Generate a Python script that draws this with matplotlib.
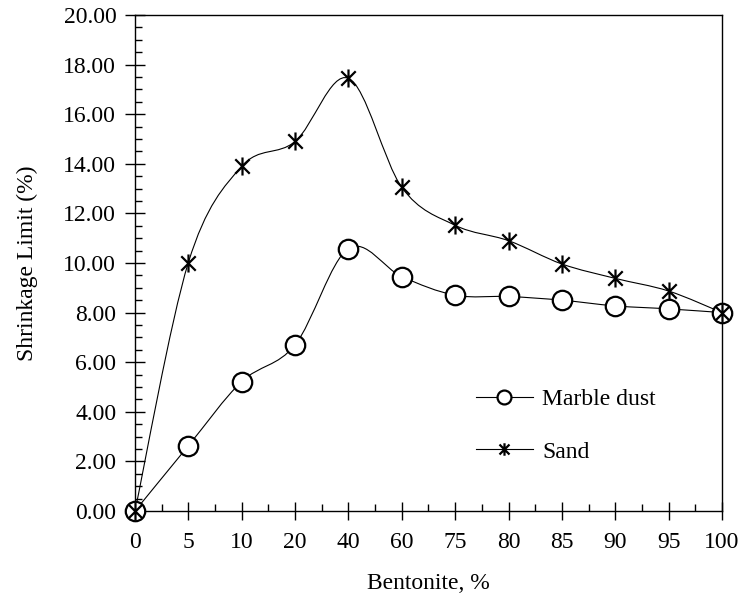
"""
Shrinkage limit vs bentonite content (marble dust / sand)
"""

import numpy as np
import matplotlib
matplotlib.use('Agg')
import matplotlib.pyplot as plt
from matplotlib.path import Path
from matplotlib.patches import PathPatch
from matplotlib.ticker import MultipleLocator, FormatStrFormatter

bentonite = ['0', '5', '10', '20', '40', '60', '75', '80', '85', '90', '95', '100']
marble_dust = [0.00, 2.63, 5.22, 6.70, 10.58, 9.45, 8.70, 8.65, 8.50, 8.27, 8.15, 8.00]
sand = [0.00, 10.02, 13.90, 14.90, 17.45, 13.05, 11.52, 10.90, 9.96, 9.38, 8.87, 8.00]

plt.rcParams['font.family'] = ['Liberation Serif', 'DejaVu Serif']
FS = 17

# Excel-like "star" marker : X plus vertical bar
star = Path([(-1, -1), (1, 1), (-1, 1), (1, -1), (0, -1.25), (0, 1.25)],
            [Path.MOVETO, Path.LINETO, Path.MOVETO, Path.LINETO, Path.MOVETO, Path.LINETO])


def smooth_path(xs, ys):
    # smoothed line like the spreadsheet one (cubic bezier, catmull-rom controls)
    p = np.column_stack([xs, ys]).astype(float)
    n = len(p)
    verts = [p[0]]
    codes = [Path.MOVETO]
    for i in range(n - 1):
        p0 = p[i - 1] if i > 0 else p[i]
        p3 = p[i + 2] if i + 2 < n else p[i + 1]
        c1 = p[i] + (p[i + 1] - p0) / 6
        c2 = p[i + 1] - (p3 - p[i]) / 6
        verts += [c1, c2, p[i + 1]]
        codes += [Path.CURVE4] * 3
    return Path(verts, codes)


fig = plt.figure(figsize=(7.43, 6.01), dpi=100, facecolor='white')
ax = fig.add_axes([0.1817, 0.1498, 0.79, 0.8252])

x = np.arange(len(bentonite))

for vals in (marble_dust, sand):
    ax.add_patch(PathPatch(smooth_path(x, vals), facecolor='none',
                           edgecolor='black', linewidth=0.8, zorder=2))

ax.plot(x, marble_dust, linestyle='none', marker='o', markersize=14,
        markerfacecolor='white', markeredgecolor='black', markeredgewidth=1.6,
        zorder=3, clip_on=False)
ax.plot(x, sand, linestyle='none', marker=star, markersize=13,
        markeredgecolor='black', markeredgewidth=1.6, zorder=4, clip_on=False)

# handles for the legend
h1, = ax.plot([], [], color='black', linewidth=0.8, marker='o', markersize=10,
              markerfacecolor='white', markeredgecolor='black', markeredgewidth=1.6,
              label='Marble dust')
h2, = ax.plot([], [], color='black', linewidth=0.8, marker=star, markersize=9,
              markeredgecolor='black', markeredgewidth=1.6, label='Sand')
ax.legend(handles=[h1, h2], loc='center left', bbox_to_anchor=(0.545, 0.172),
          frameon=False, fontsize=FS, handlelength=2.4, handletextpad=0.4,
          labelspacing=1.3)

ax.set_xlim(0, len(bentonite) - 1)
ax.set_ylim(0, 20)
ax.set_xticks(x)
ax.set_xticklabels(bentonite)
ax.xaxis.set_minor_locator(MultipleLocator(0.5))
ax.yaxis.set_major_locator(MultipleLocator(2))
ax.yaxis.set_minor_locator(MultipleLocator(0.5))
ax.yaxis.set_major_formatter(FormatStrFormatter('%.2f'))

ax.tick_params(which='major', direction='inout', length=13, width=1, labelsize=FS,
               colors='black', pad=9)
ax.tick_params(which='minor', direction='in', length=5, width=1)
ax.tick_params(axis='y', which='major', length=15, pad=6)
for s in ax.spines.values():
    s.set_linewidth(1)
    s.set_color('black')

ax.set_xlabel('Bentonite, %', fontsize=FS, labelpad=14)
ax.set_ylabel('Shrinkage Limit (%)', fontsize=FS, labelpad=18)

fig.savefig('out.png', dpi=100)
